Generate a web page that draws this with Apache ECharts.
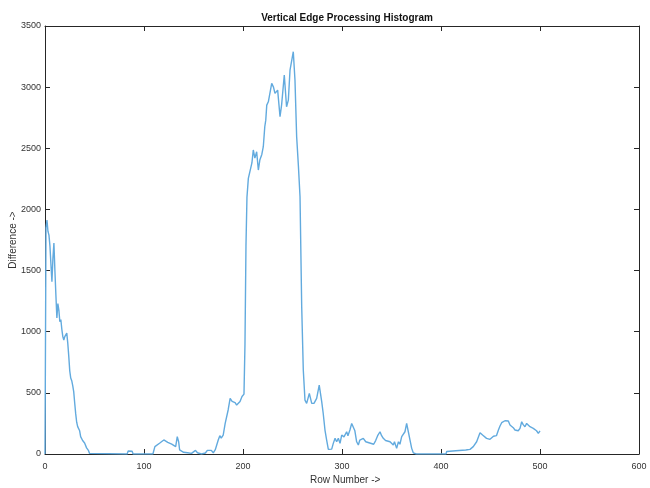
<!DOCTYPE html>
<html>
<head>
<meta charset="utf-8">
<script src="https://cdn.jsdelivr.net/npm/echarts@6/dist/echarts.min.js"></script>
<style>
  html, body { margin: 0; padding: 0; background: #fff; }
  #chart { width: 650px; height: 488px; }
</style>
</head>
<body>
<div id="chart"></div>
<script>
// row number (x) and difference (y)
var rows = [0,1,2,3,4,5,6,7,8,9,10,11,12,13,14,15,16,17,18,19,20,22,23,24,25,26,27,28,29,30,31,32,33,34,35,36,38,40,42,44,45,46,
  83,84,86,88,89,109,111,113,116,118,120,122,124,126,128,130,132,133.6,135,136,138,140,142,144,146,148,150,152,154,156,158,160,162,164,166,168,170,172,173,
  175,176.6,178,180,182,185,187,189,190,192,193.6,195,197,199,201,202,203,204,205.4,207,209,210.4,212,213.8,215.5,217,219,220.5,222,223,224,225.6,227,229,230.8,232.3,235,237.4,239,241.7,244,245.8,247.5,250.8,252.5,254.2,256,257.6,259.3,260.9,262.6,264.3,267,269.4,271.7,274.4,277,279.5,281,282.8,284.5,286.2,288,289.6,
  291.2,293,294.6,296.3,298,299.7,302,304.7,306,308,309.8,311.4,313,314.8,316.5,318,320,321.5,324,326,328,330,332,334,336,338.4,340,341.7,344,346,348.5,350,351.8,353,355.2,357,358.5,360.3,362,363.6,365.3,367,368.7,370.4,372,375,
  405,405.8,415,425,429.3,431,432.6,436,439.4,442,444,446,448,449.5,451.2,453,454.5,456,458,459.6,461.3,463,464.6,466.5,468,469.7,471,473,474.7,476.4,478,479.8,481.5,483,484.8,486.5,488,489.9,491.5,493.2,495,496.5,498.3,500];
var diffs = [0,1850,1913,1820,1790,1700,1550,1409,1600,1725,1500,1300,1112,1230,1177,1082,1100,1020,960,932,960,989,907,800,680,621,600,560,510,417,330,260,224,230,190,142,110,90,50,27,5,0,
  0,25,30,22,0,0,60,70,90,100,115,100,95,110,80,90,60,142,100,33,40,14,30,10,20,5,14,30,10,25,0,15,8,30,18,30,10,35,27,
  114,150,130,155,250,360,455,430,415,420,400,410,430,470,490,900,1700,2100,2254,2268,2380,2486,2420,2472,2322,2404,2450,2513,2676,2730,2853,2880,2895,3031,3000,2949,2976,2758,2855,3099,2840,2894,3140,3290,3058,2594,2350,2104,1204,687,441,414,496,414,414,455,564,428,333,196,114,38,25,40,
  87,128,100,128,87,155,140,182,150,196,250,264,190,100,74,114,100,128,100,110,90,100,80,110,150,182,150,128,110,120,100,90,74,100,46,100,80,142,130,182,250,182,114,46,10,0,
  0,20,27,33,38,46,60,100,174,155,140,128,135,120,115,145,147,150,196,229,256,250,272,262,270,237,230,215,196,183,190,210,264,240,223,250,235,223,220,210,205,190,169,190];

var xTicks = [0, 100, 200, 300, 400, 500, 600];
var yTicks = [0, 500, 1000, 1500, 2000, 2500, 3000, 3500];

var pts = rows.map(function (r, i) { return [r, diffs[i]]; });

var font = "'Liberation Sans Narrow', 'Liberation Sans', Arial, sans-serif";
var axisCol = '#262626';

var chart = echarts.init(document.getElementById('chart'));

function plain(v) { return String(v); }

function xAx(pos, show) {
  return {
    type: 'value', position: pos, min: xTicks[0], max: xTicks[xTicks.length - 1], interval: 100,
    axisLine: { show: true, onZero: false, lineStyle: { color: axisCol, width: 1 } },
    axisTick: { show: true, inside: true, length: 5, lineStyle: { color: axisCol } },
    axisLabel: { show: show, color: '#333', fontSize: 9, fontFamily: font, margin: 8, formatter: plain },
    splitLine: { show: false }
  };
}
function yAx(pos, show) {
  return {
    type: 'value', position: pos, min: yTicks[0], max: yTicks[yTicks.length - 1], interval: 500,
    axisLine: { show: true, onZero: false, lineStyle: { color: axisCol, width: 1 } },
    axisTick: { show: true, inside: true, length: 5, lineStyle: { color: axisCol } },
    axisLabel: { show: show, color: '#333', fontSize: 9, fontFamily: font, margin: 4, formatter: plain },
    splitLine: { show: false }
  };
}

chart.setOption({
  backgroundColor: '#fff',
  animation: false,
  title: {
    text: 'Vertical Edge Processing Histogram',
    left: 342, top: 8, textAlign: 'center',
    textStyle: { fontSize: 10, fontWeight: 'bold', color: '#111', fontFamily: font }
  },
  grid: { left: 45, right: 11, top: 26, bottom: 34, containLabel: false },
  xAxis: [xAx('bottom', true), xAx('top', false)],
  yAxis: [yAx('left', true), yAx('right', false)],
  graphic: [
    { type: 'text', left: 310, top: 475,
      style: { text: 'Row Number ->', fill: '#333', font: '10px ' + font } },
    { type: 'text', x: 13, y: 240, rotation: Math.PI / 2,
      style: { text: 'Difference ->', align: 'center', verticalAlign: 'middle', fill: '#333', font: '10px ' + font } }
  ],
  series: [{
    type: 'line',
    data: pts,
    xAxisIndex: 0, yAxisIndex: 0,
    showSymbol: false,
    lineStyle: { color: '#62aade', width: 1.4 }
  }]
});
</script>
</body>
</html>
